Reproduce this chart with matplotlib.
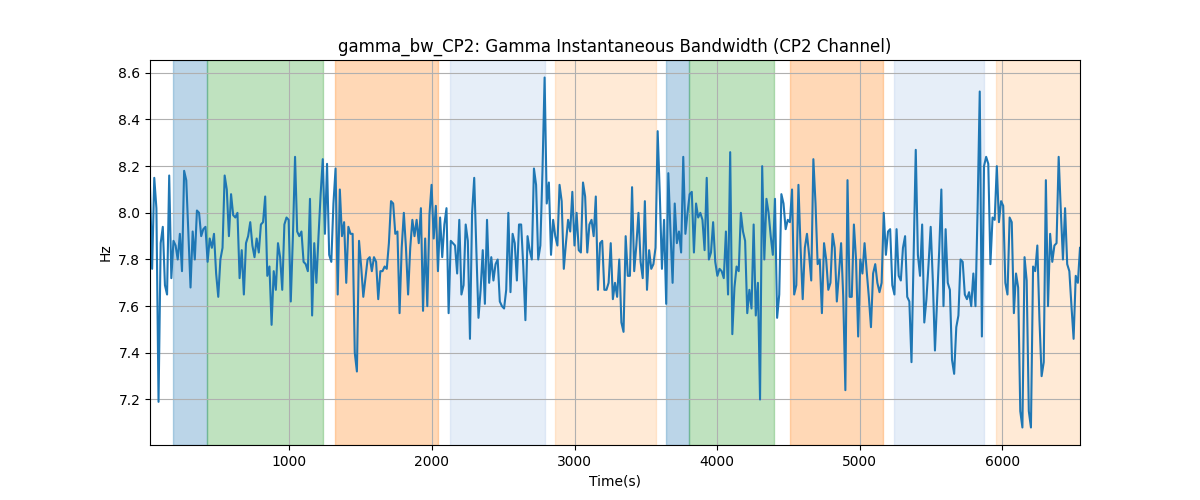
import numpy as np
import matplotlib
matplotlib.use('Agg')
import matplotlib.pyplot as plt

# gamma bandwidth values (Hz) left to right
bw_a = [8.11, 7.76, 8.15, 8.02, 7.19, 7.87, 7.94, 7.69, 7.65, 8.16, 7.72, 7.88, 7.86, 7.80, 7.91, 7.75,
        8.18, 8.14, 7.91, 7.68, 7.92, 7.80, 8.01, 8.00, 7.90, 7.93, 7.94, 7.79, 7.89, 7.85, 7.91, 7.74,
        7.64, 7.80, 7.85, 8.16, 8.10, 7.90, 8.08, 7.99, 7.98, 8.00, 7.72, 7.84, 7.65, 7.87, 7.90, 7.96,
        7.86, 7.81, 7.89, 7.83, 7.95, 7.96, 8.07, 7.73, 7.77, 7.52, 7.75, 7.67, 7.87, 7.81]
bw_b = [7.67, 7.95, 7.98, 7.97, 7.62, 7.90, 8.24, 7.92, 7.90, 7.92, 7.79, 7.78, 7.75, 8.06, 7.56, 7.87,
        7.70, 7.90, 8.08, 8.23, 7.91, 8.21, 7.82, 7.79, 8.04, 8.19, 7.65, 8.10, 7.90, 7.96, 7.70, 7.94,
        7.91, 7.91, 7.40, 7.32, 7.88, 7.77, 7.64, 7.72, 7.80, 7.81, 7.75, 7.81, 7.79, 7.63, 7.75, 7.75,
        7.77, 7.76, 7.87, 8.05, 8.04, 7.91, 7.92, 7.57, 7.85, 8.00, 7.85, 7.65, 7.85, 7.97, 7.90]
bw_c = [7.97, 7.87, 8.02, 7.58, 7.89, 7.60, 7.99, 8.12, 7.89, 8.03, 7.75, 7.98, 7.81, 7.95, 8.02, 7.57,
        7.88, 7.87, 7.86, 7.74, 7.97, 7.65, 7.69, 7.95, 7.88, 7.46, 8.00, 8.15, 7.84, 7.55, 7.67, 7.84,
        7.61, 7.97, 7.70, 7.81, 7.71, 7.78, 7.80, 7.62, 7.60, 7.59, 7.67, 8.00, 7.66, 7.91, 7.87, 7.71,
        7.95, 7.95, 7.77, 7.54, 7.90, 7.84, 7.80, 8.19, 8.12, 7.80, 7.86, 8.18, 8.58, 8.04, 8.13]
bw_d = [7.82, 7.97, 7.90, 7.86, 8.12, 8.05, 7.76, 7.87, 7.97, 7.92, 8.09, 7.86, 8.00, 7.84, 7.83, 8.13,
        8.07, 7.83, 7.95, 7.97, 7.90, 8.07, 7.67, 7.87, 7.88, 7.67, 7.67, 7.70, 7.87, 7.63, 7.70, 7.64,
        7.80, 7.53, 7.49, 7.90, 7.73, 7.73, 8.11, 7.75, 7.86, 8.00, 7.79, 7.72, 8.05, 7.67, 7.84, 7.76,
        7.78, 7.85, 8.35, 8.08, 7.76, 7.97, 7.61, 8.17, 7.92, 7.70, 8.04, 7.87, 7.92, 7.83, 8.24]
bw_e = [7.91, 8.00, 8.08, 8.09, 7.83, 8.04, 7.98, 8.00, 7.97, 7.84, 8.15, 7.80, 7.83, 7.96, 7.79, 7.73,
        7.76, 7.75, 7.72, 7.92, 7.65, 8.26, 7.48, 7.68, 7.77, 7.75, 8.00, 7.92, 7.88, 7.57, 7.67, 7.59,
        7.95, 7.56, 7.70, 7.20, 8.20, 7.80, 8.06, 8.00, 7.90, 7.82, 8.06, 7.55, 7.65, 8.08, 8.04, 7.93,
        7.97, 7.96, 8.10, 7.65, 7.69, 8.12, 7.85, 7.63, 7.85, 7.91, 7.82, 7.71, 8.23, 8.04, 7.78]
bw_f = [7.80, 7.57, 7.87, 7.80, 7.67, 7.70, 7.91, 7.85, 7.62, 7.74, 7.87, 7.64, 7.24, 8.14, 7.64, 7.64,
        7.95, 7.80, 7.47, 7.80, 7.74, 7.87, 7.75, 7.64, 7.51, 7.74, 7.78, 7.70, 7.66, 7.70, 8.00, 7.82,
        7.92, 7.93, 7.69, 7.65, 7.93, 7.73, 7.71, 7.85, 7.90, 7.64, 7.62, 7.36, 7.81, 8.27, 7.82, 7.73,
        7.95, 7.53, 7.63, 7.78, 7.94, 7.71, 7.41, 7.62, 7.84, 8.10, 7.60, 7.93, 7.70, 7.67, 7.37]
bw_g = [7.31, 7.51, 7.56, 7.80, 7.79, 7.65, 7.63, 7.66, 7.60, 7.74, 7.60, 8.02, 8.52, 7.47, 8.20, 8.24,
        8.21, 7.78, 7.98, 7.97, 8.20, 7.96, 8.05, 8.03, 7.70, 7.65, 7.98, 7.96, 7.57, 7.74, 7.68, 7.15,
        7.08, 7.81, 7.71, 7.15, 7.08, 7.77, 7.75, 7.86, 7.54, 7.30, 7.36, 8.14, 7.60, 7.91, 7.79, 7.86,
        7.87, 8.24, 8.01, 7.80, 8.02, 7.78, 7.75, 7.60, 7.46, 7.73, 7.70, 7.85]

t_start = 22
t_end = 6546

# shaded phases
span_start = [185, 419, 1323, 2124, 2861, 3640, 3804, 4511, 5241, 5958]
span_end = [419, 1236, 2044, 2791, 3575, 3804, 4399, 5164, 5871, 6600]
span_color = ['tab:blue', 'tab:green', 'tab:orange', '#aec7e8', '#ffbb78',
              'tab:blue', 'tab:green', 'tab:orange', '#aec7e8', '#ffbb78']

bw = np.array(bw_a + bw_b + bw_c + bw_d + bw_e + bw_f + bw_g)
t = np.linspace(t_start, t_end, len(bw))

fig, ax = plt.subplots(figsize=(12, 5))

for s, e, c in zip(span_start, span_end, span_color):
    ax.axvspan(s, e, color=c, alpha=0.3)

ax.plot(t, bw, color='tab:blue', linewidth=1.5)

ax.set_xlim(t[0], t[-1])
ax.set_title('gamma_bw_CP2: Gamma Instantaneous Bandwidth (CP2 Channel)')
ax.set_xlabel('Time(s)')
ax.set_ylabel('Hz')
ax.grid(True)

plt.savefig('out.png', dpi=100)
